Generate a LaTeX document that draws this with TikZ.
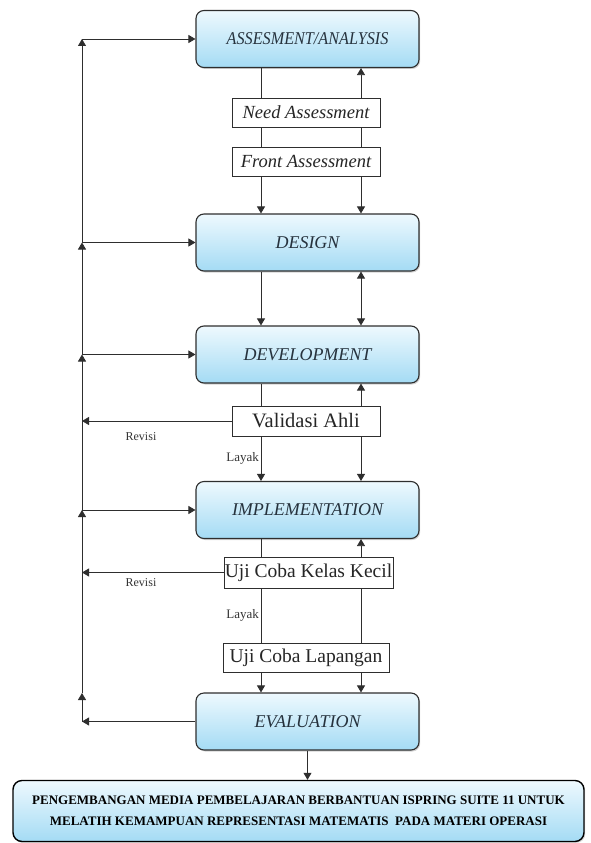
\documentclass[tikz,border=0pt]{standalone}
\usepackage{fontspec}
\setmainfont{Liberation Serif}
\usetikzlibrary{arrows.meta,shadows}
\definecolor{boxtop}{HTML}{EEF9FE}
\definecolor{boxbot}{HTML}{A4DBF4}
\definecolor{boxtxt}{HTML}{26323D}
\definecolor{ln}{HTML}{2E2E2E}
\begin{document}
\begin{tikzpicture}[x=1pt,y=-1pt,
  conn/.style={draw=ln, line width=0.8pt},
  arr/.style={conn, -{Triangle[length=7pt,width=8pt]}},
  darr/.style={conn, {Triangle[length=7pt,width=8pt]}-{Triangle[length=7pt,width=8pt]}},
  mainbox/.style={draw=ln, line width=1.1pt, rounded corners=8pt,
    top color=boxtop, bottom color=boxbot, minimum width=223pt, minimum height=57pt,
    inner sep=0pt, text=boxtxt, font=\fontsize{18}{20}\selectfont\itshape,
    drop shadow={opacity=0.35, shadow xshift=1.2pt, shadow yshift=-1.5pt}},
  stepbox/.style={draw=ln, line width=0.8pt, fill=white, inner sep=0pt,
    minimum height=29pt, text=black!85},
  itbox/.style={stepbox, minimum width=148pt, font=\fontsize{18.5}{20}\selectfont\itshape},
  upbox/.style={stepbox, font=\fontsize{19.5}{21}\selectfont},
  lab/.style={inner sep=1pt, text=black!80},
  finalbox/.style={draw=black, line width=1.4pt, rounded corners=9pt,
    top color=boxtop, bottom color=boxbot, minimum width=571pt, minimum height=61pt,
    inner sep=0pt, font=\fontsize{13}{21}\selectfont\bfseries,
    drop shadow={opacity=0.3, shadow xshift=1.2pt, shadow yshift=-1.5pt}}
]
\useasboundingbox (0,0) rectangle (590,843);

% main phases
\node[mainbox] (A)   at (307.5,39)    {\scalebox{0.9}[1]{ASSESMENT/ANALYSIS}};
\node[mainbox] (D)   at (307.5,242.5) {DESIGN};
\node[mainbox] (Dev) at (307.5,354.5) {DEVELOPMENT};
\node[mainbox] (I)   at (307.5,510)   {IMPLEMENTATION};
\node[mainbox] (E)   at (307.5,721.5) {EVALUATION};

% step boxes
\node[itbox] (na) at (306,112.5) {Need Assessment};
\node[itbox] (fa) at (306,161.5) {Front Assessment};
\node[upbox, minimum width=148pt, minimum height=30pt,
      font=\fontsize{20.5}{22}\selectfont] (va) at (306,421) {Validasi Ahli};
\node[upbox, minimum width=169pt, minimum height=31pt] (uk) at (308.5,572.5) {Uji Coba Kelas Kecil};
\node[upbox, minimum width=166pt] (ul) at (306,657.5) {Uji Coba Lapangan};

% final box
\node[finalbox] (F) at (298.5,811) {\raisebox{-2pt}{\begin{tabular}{@{}c@{}}PENGEMBANGAN MEDIA PEMBELAJARAN BERBANTUAN ISPRING SUITE 11 UNTUK\\MELATIH KEMAMPUAN REPRESENTASI MATEMATIS\ \ PADA MATERI OPERASI\end{tabular}}};

% guide coordinates
\coordinate (L) at (261,0);
\coordinate (R) at (361,0);
\coordinate (X) at (82,0);
\coordinate (k) at (82,693);

% central connectors
\draw[conn] (A.south -| L) -- (na.north -| L);
\draw[arr]  (na.north -| R) -- (A.south -| R);
\draw[conn] (na.south -| L) -- (fa.north -| L);
\draw[conn] (na.south -| R) -- (fa.north -| R);
\draw[arr]  (fa.south -| L) -- (D.north -| L);
\draw[arr]  (fa.south -| R) -- (D.north -| R);
\draw[arr]  (D.south -| L) -- (Dev.north -| L);
\draw[darr] (D.south -| R) -- (Dev.north -| R);
\draw[conn] (Dev.south -| L) -- (va.north -| L);
\draw[arr]  (va.north -| R) -- (Dev.south -| R);
\draw[arr]  (va.south -| L) -- (I.north -| L);
\draw[arr]  (va.south -| R) -- (I.north -| R);
\draw[conn] (I.south -| L) -- (uk.north -| L);
\draw[arr]  (uk.north -| R) -- (I.south -| R);
\draw[conn] (uk.south -| L) -- (ul.north -| L);
\draw[conn] (uk.south -| R) -- (ul.north -| R);
\draw[arr]  (ul.south -| L) -- (E.north -| L);
\draw[arr]  (ul.south -| R) -- (E.north -| R);
\draw[arr]  (E.south) -- (E.south |- F.north);

% feedback loop on the left
\draw[arr] (E.west) -- (E.west -| X);
\draw[arr] (E.west -| X) -- (k);
\draw[arr] (k) -- (I.west -| X);
\draw[arr] (I.west -| X) -- (Dev.west -| X);
\draw[arr] (Dev.west -| X) -- (D.west -| X);
\draw[arr] (D.west -| X) -- (A.west -| X);
\draw[arr] (A.west -| X) -- (A.west);
\draw[arr] (D.west -| X) -- (D.west);
\draw[arr] (Dev.west -| X) -- (Dev.west);
\draw[arr] (I.west -| X) -- (I.west);
\draw[arr] (va.west) -- (va.west -| X);
\draw[arr] (uk.west) -- (uk.west -| X);

% labels
\node[lab, font=\fontsize{12}{14}\selectfont] (rv1) at (141,437) {Revisi};
\node[lab, font=\fontsize{12}{14}\selectfont] (rv2) at (141,583) {Revisi};
\node[lab, anchor=east, font=\fontsize{13}{15}\selectfont] (ly1) at (260,458) {Layak};
\node[lab, anchor=east, font=\fontsize{13}{15}\selectfont] (ly2) at (260,615) {Layak};
\end{tikzpicture}
\end{document}
